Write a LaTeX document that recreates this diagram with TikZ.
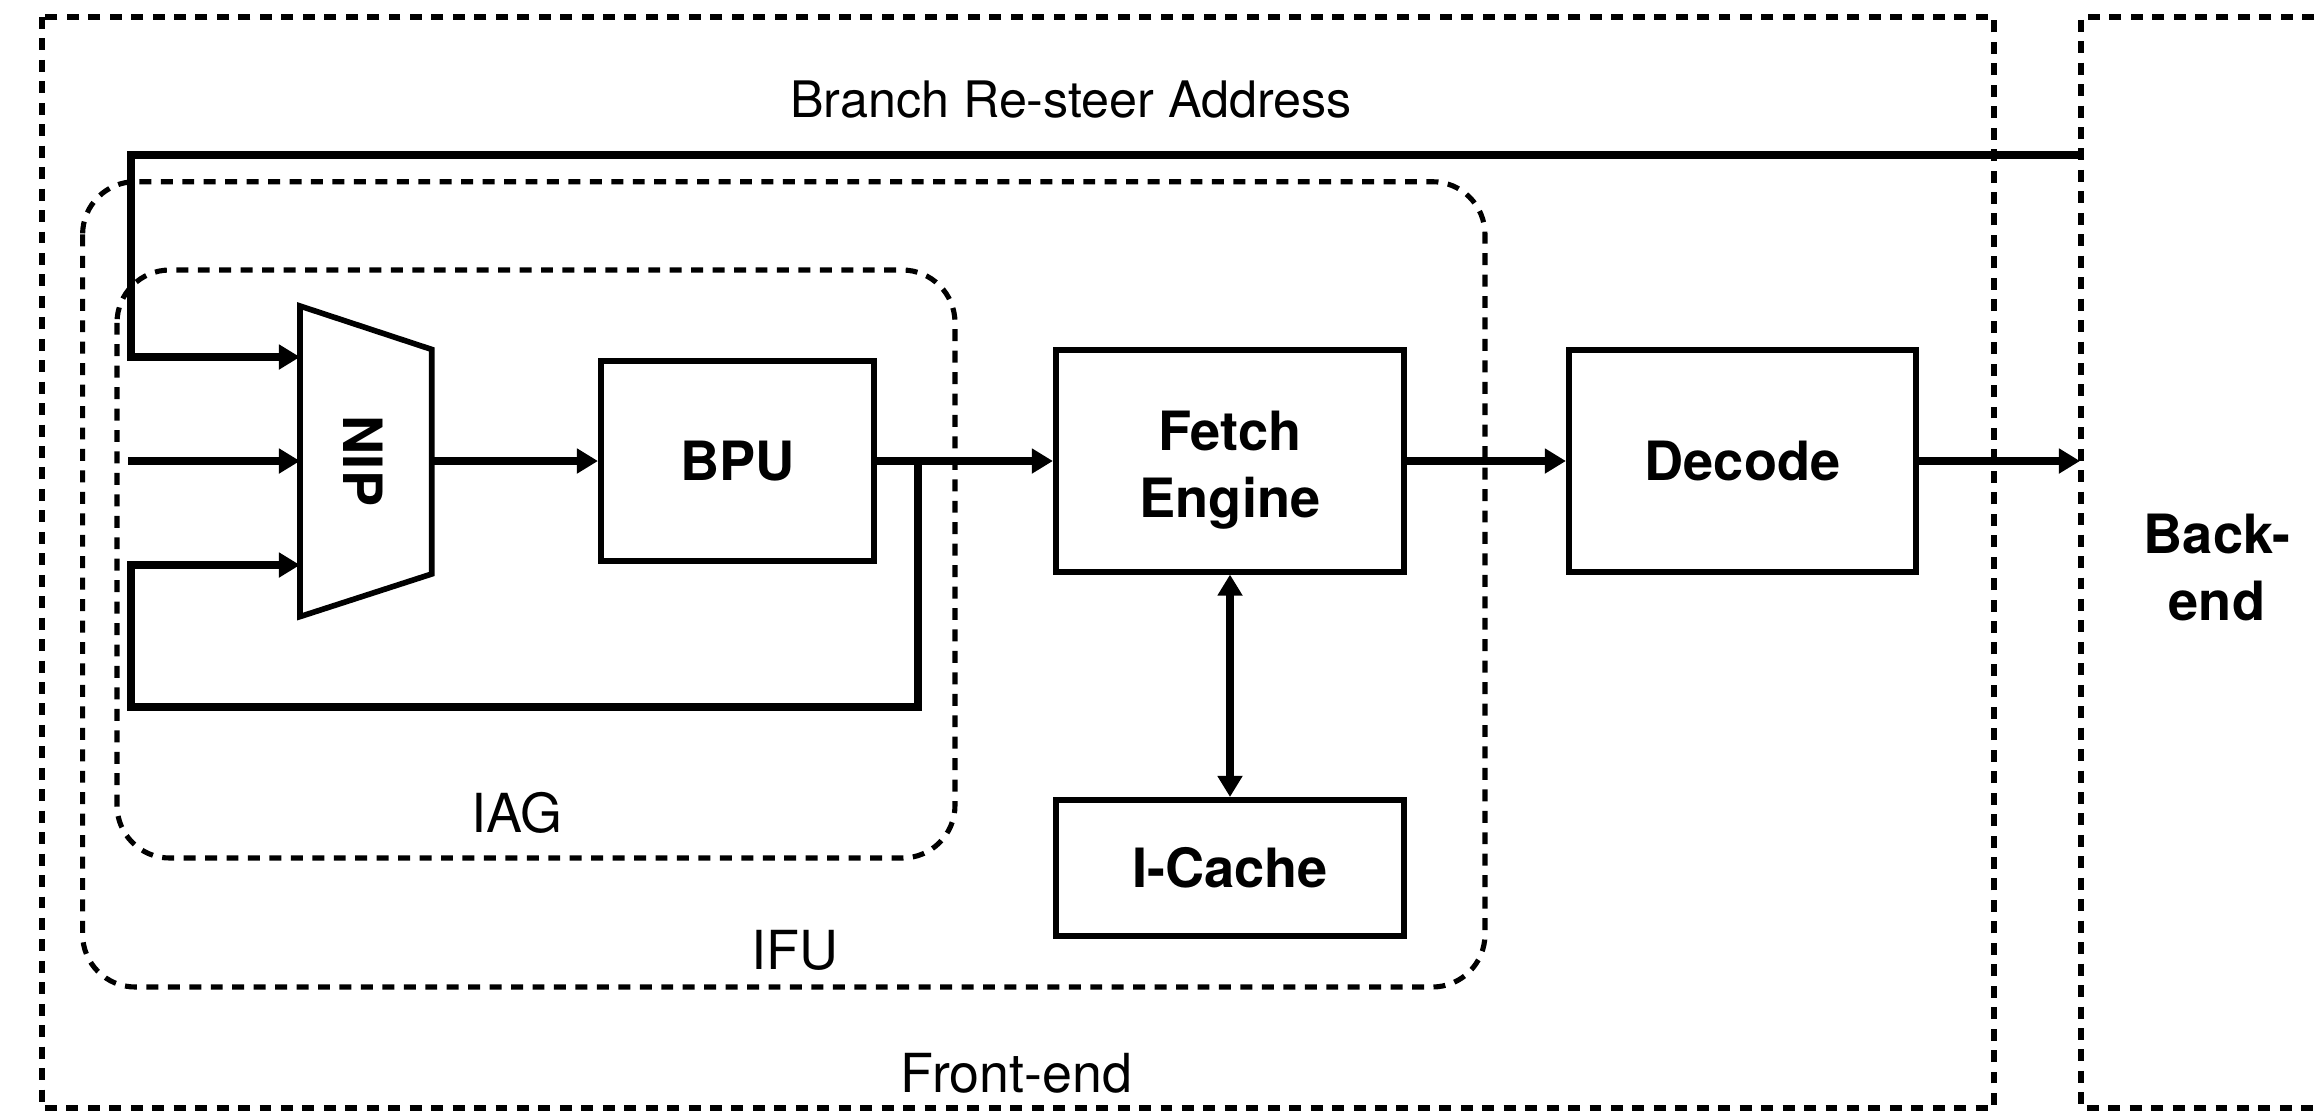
\documentclass[tikz,border=0pt]{standalone}
\usepackage{fontspec}
\setmainfont{TeX Gyre Heros}
\usetikzlibrary{arrows.meta}
\begin{document}
\begin{tikzpicture}[x=0.01cm, y=-0.01cm,
  frame/.style={draw, line width=1.45pt, dash pattern=on 3.4pt off 2.7pt},
  region/.style={frame, rounded corners=15pt},
  blk/.style={draw, line width=1.7pt, inner sep=0pt, font=\bfseries\fontsize{15.4}{19}\selectfont, align=center},
  btxt/.style={inner sep=0pt, font=\bfseries\fontsize{15.4}{19}\selectfont, align=center},
  lbl/.style={inner sep=0pt, font=\fontsize{15.3}{18}\selectfont, anchor=base},
  wire/.style={line width=2.05pt},
  arr/.style={wire, -{Triangle[length=6pt,width=6.8pt]}},
  darr/.style={wire, {Triangle[length=6pt,width=6.8pt]}-{Triangle[length=6pt,width=6.8pt]}},
]
\useasboundingbox (0,0) rectangle (2320,1111);
\clip (0,0) rectangle (2320,1111);

% outer frames
\draw[frame] (42,17) rectangle (1994,1108);
\draw[frame] (2400,17) -- (2081,17) -- (2081,1108) -- (2400,1108);
\draw[region] (82.6,181.7) rectangle (1485,987);
\draw[region] (117,270) rectangle (955,858);

% NIP multiplexer
\draw[line width=1.6pt, line join=miter] (300,306) -- (431.7,349.4) -- (431.7,574) -- (300,616.6) -- cycle;
\node[btxt, rotate=-90] (nip) at (363.7,461) {NIP};
\coordinate (nipin1) at (300,357);
\coordinate (nipin2) at (300,461);
\coordinate (nipin3) at (300,565);
\coordinate (nipout) at (431.7,461);

% blocks
\node[blk, minimum width=2.727cm, minimum height=1.99cm] (bpu) at (737.4,461) {BPU};
\node[draw, line width=1.7pt, inner sep=0pt, minimum width=3.48cm, minimum height=2.21cm] (fetch) at (1230,461) {};
\node[btxt] (fetchtxt) at (1230,470) {Fetch\\Engine};
\node[blk, minimum width=3.47cm, minimum height=2.21cm] (decode) at (1742.5,461) {Decode};
\node[blk, minimum width=3.48cm, minimum height=1.36cm] (icache) at (1230,868) {I-Cache};

% labels
\node[lbl, font=\fontsize{14.3}{17}\selectfont] (brlbl) at (1071,117.3) {Branch Re-steer Address};
\node[lbl] (iaglbl) at (517,832.3) {IAG};
\node[lbl] (ifulbl) at (795,969.3) {IFU};
\node[lbl] (felbl) at (1016.5,1092.3) {Front-end};
\node[btxt] (belbl) at (2217,567.6) {Back-\\end};

% connectors
\coordinate (brsrc) at (2084,155);
\coordinate (brcorner) at (131,155);
\coordinate (in2) at (128,461);
\coordinate (tap) at (918,461);
\coordinate (loopcorner) at (131,707);
\coordinate (bein) at (2080,461);

\draw[arr] (brsrc) -- (brcorner) |- (nipin1);
\draw[arr] (in2) -- (nipin2);
\draw[arr] (tap) |- (loopcorner) |- (nipin3);
\draw[arr] (nipout) -- (bpu.west);
\draw[arr] (bpu.east) -- (fetch.west);
\draw[arr] (fetch.east) -- (decode.west);
\draw[arr] (decode.east) -- (bein);
\draw[darr] (fetch.south) -- (icache.north);
\end{tikzpicture}
\end{document}
